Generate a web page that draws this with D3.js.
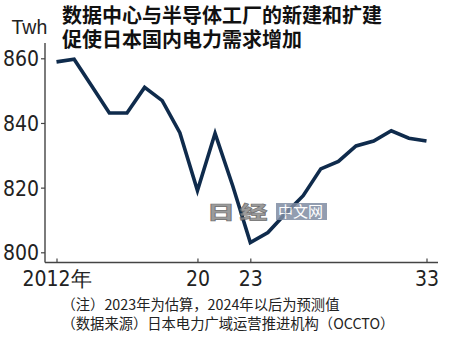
<!DOCTYPE html>
<html>
<head>
<meta charset="utf-8">
<script src="https://cdn.jsdelivr.net/npm/d3@7/dist/d3.min.js"></script>
<style>
  html, body { margin: 0; padding: 0; background: #fff; }
  svg { display: block; }
</style>
</head>
<body>
<div id="chart"></div>
<script>
const years = [2012,2013,2014,2015,2016,2017,2018,2019,2020,2021,2022,2023,2024,2025,2026,2027,2028,2029,2030,2031,2032,2033];
const demand = [858.9,859.7,851.4,843.1,843.1,851.0,846.9,837.0,819.1,836.8,820.6,803.0,806.1,812.0,817.5,825.8,828.1,832.9,834.4,837.6,835.3,834.4];
const yTicks = [800,820,840,860];
const xTicks = [2012,2020,2023,2033];
const xTickLabels = ["2012年","20","23","33"];
const titleLines = ["数据中心与半导体工厂的新建和扩建","促使日本国内电力需求增加"];
const unitLabel = "Twh";
const notes = ["（注）2023年为估算，2024年以后为预测值","（数据来源）日本电力广域运营推进机构（OCCTO）"];

const W = 450, H = 337;
const svg = d3.select("#chart").append("svg").attr("width", W).attr("height", H);

const x = d3.scaleLinear().domain([2012, 2033]).range([56.5, 426.5]);
const y = d3.scaleLinear().domain([800, 860]).range([252.3, 58.3]);
const axisX0 = 45, axisY0 = 262.5;
const axisColor = "#444";
const numFont = "'Liberation Sans Narrow', 'Arial Narrow', 'DejaVu Sans Condensed', sans-serif";
const cjkFont = "'Noto Sans CJK SC', 'Noto Sans', sans-serif";

// Title (one text block, two lines)
const title = svg.append("text")
  .attr("font-family", cjkFont).attr("font-size", 20).attr("font-weight", 700)
  .attr("fill", "#111");
title.selectAll("tspan").data(titleLines).join("tspan")
  .attr("x", 62).attr("y", (d,i) => 22.5 + i*24).text(d => d);

// Unit
svg.append("text").attr("x", 11.5).attr("y", 34.3)
  .attr("font-family", "'Liberation Sans', Arial, sans-serif").attr("font-size", 19.5)
  .attr("fill", "#222").text(unitLabel);

// Y axis
const gy = svg.append("g").attr("transform", `translate(${axisX0},0)`)
  .call(d3.axisLeft(y).tickValues(yTicks).tickSize(4).tickPadding(2));
gy.select(".domain").remove();
gy.selectAll(".tick line").attr("stroke", axisColor).attr("stroke-width", 1.2);
gy.selectAll(".tick text").attr("font-family", numFont).attr("font-size", 21)
  .attr("fill", "#222").attr("dy", "0.36em");

// X axis
const gx = svg.append("g").attr("transform", `translate(0,${axisY0})`)
  .call(d3.axisBottom(x).tickValues(xTicks).tickSize(-4).tickPadding(8.5)
    .tickFormat((d,i) => xTickLabels[i]));
gx.select(".domain").remove();
gx.selectAll(".tick line").attr("stroke", axisColor).attr("stroke-width", 1.2);
gx.selectAll(".tick text").attr("font-family", numFont).attr("font-size", 21).attr("fill", "#222");

// Axis lines
svg.append("line").attr("x1", axisX0).attr("x2", axisX0).attr("y1", 43).attr("y2", axisY0)
  .attr("stroke", axisColor).attr("stroke-width", 1.4);
svg.append("line").attr("x1", axisX0).attr("x2", 438).attr("y1", axisY0).attr("y2", axisY0)
  .attr("stroke", axisColor).attr("stroke-width", 1.4);

// Line
const line = d3.line().x((d,i) => x(years[i])).y(d => y(d));
svg.append("path").datum(demand).attr("d", line)
  .attr("fill", "none").attr("stroke", "#0f2b4c").attr("stroke-width", 3.6)
  .attr("stroke-linejoin", "miter").attr("stroke-linecap", "butt");

// Watermark
const wm = svg.append("g").attr("opacity", 0.85);
wm.append("g").attr("transform", "translate(207,219) scale(1.55,1)")
  .append("text").attr("font-family", cjkFont)
  .attr("font-size", 18).attr("font-weight", 900).attr("fill", "#8a8a8a")
  .attr("stroke", "#555").attr("stroke-width", 0.6).attr("letter-spacing", 3).text("日经");
wm.append("rect").attr("x", 276).attr("y", 203).attr("width", 51).attr("height", 17).attr("fill", "#7f8ca3");
wm.append("text").attr("x", 278).attr("y", 217).attr("font-family", cjkFont)
  .attr("font-size", 15).attr("fill", "#fff").text("中文网");

// Notes
svg.append("g").selectAll("text").data(notes).join("text")
  .attr("x", 61.5).attr("y", (d,i) => 310 + i*19)
  .attr("font-family", cjkFont).attr("font-size", 14.3)
  .attr("fill", "#222").text(d => d);
</script>
</body>
</html>
